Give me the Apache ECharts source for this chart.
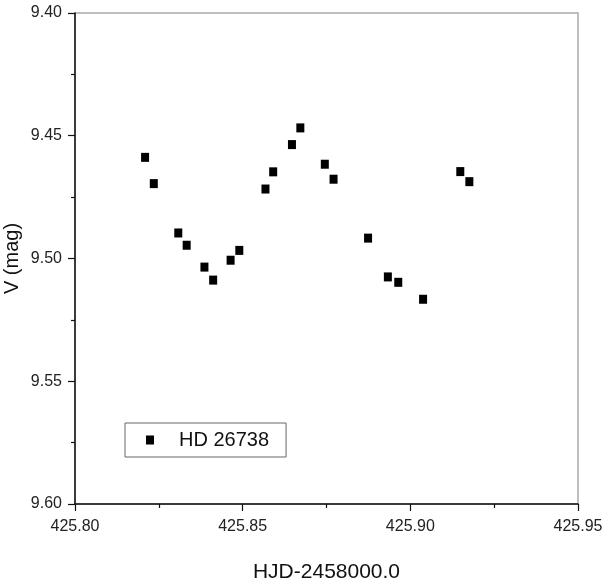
<!DOCTYPE html>
<html>
<head>
<meta charset="utf-8">
<script src="https://cdn.jsdelivr.net/npm/echarts@6/dist/echarts.min.js"></script>
<style>
html,body{margin:0;padding:0;background:#fff;}
#c{width:603px;height:586px;}
</style>
</head>
<body>
<div id="c"></div>
<script>
var seriesName = 'HD 26738';
var hjd = [425.8209, 425.8235, 425.8308, 425.8333, 425.8386, 425.8412, 425.8464, 425.8490,
           425.8568, 425.8591, 425.8647, 425.8672, 425.8745, 425.8771, 425.8874, 425.8933,
           425.8964, 425.9038, 425.9149, 425.9176];
var vmag = [9.4588, 9.4695, 9.4896, 9.4946, 9.5035, 9.5088, 9.5007, 9.4967,
            9.4717, 9.4647, 9.4536, 9.4468, 9.4616, 9.4677, 9.4917, 9.5075,
            9.5097, 9.5166, 9.4646, 9.4687];
var xTicks = {min: 425.80, max: 425.95, interval: 0.05};
var yTicks = {min: 9.40, max: 9.60, interval: 0.05};

var pts = hjd.map(function (x, i) { return [x, vmag[i]]; });
var font = '"Liberation Sans", Arial, sans-serif';
var chart = echarts.init(document.getElementById('c'), null, {renderer: 'canvas'});
chart.setOption({
  animation: false,
  backgroundColor: '#fff',
  grid: {left: 75, right: 25, top: 13, bottom: 82, show: true, outerBoundsMode: 'none', containLabel: false,
         borderColor: '#aaaaaa', borderWidth: 1.5, backgroundColor: 'transparent'},
  legend: {
    show: true, left: 125, top: 423, orient: 'vertical',
    data: [{name: seriesName, icon: 'rect'}],
    itemWidth: 8, itemHeight: 9,
    padding: [5, 17, 5, 21],
    borderColor: '#666', borderWidth: 1, borderRadius: 0,
    backgroundColor: '#fff',
    itemStyle: {opacity: 1},
    textStyle: {fontFamily: font, fontSize: 20, color: '#111', padding: [0, 0, 0, 20], lineHeight: 24}
  },
  xAxis: {
    type: 'value', min: xTicks.min, max: xTicks.max, interval: xTicks.interval,
    name: 'HJD-2458000.0', nameLocation: 'middle', nameGap: 58, nameMoveOverlap: false,
    nameTextStyle: {fontFamily: font, fontSize: 21, color: '#111'},
    axisLine: {show: true, onZero: false, lineStyle: {color: '#111', width: 1.5}},
    axisTick: {show: true, inside: false, length: 7, lineStyle: {color: '#111', width: 1.2}},
    minorTick: {show: true, splitNumber: 2, length: 4, lineStyle: {color: '#111', width: 1.2}},
    splitLine: {show: false},
    axisLabel: {fontFamily: font, fontSize: 16, color: '#222', margin: 15,
                formatter: function (v) { return v.toFixed(2); }}
  },
  yAxis: {
    type: 'value', inverse: true, min: yTicks.min, max: yTicks.max, interval: yTicks.interval,
    name: 'V (mag)', nameLocation: 'middle', nameGap: 53, nameRotate: 90, nameMoveOverlap: false,
    nameTextStyle: {fontFamily: font, fontSize: 20, color: '#111'},
    axisLine: {show: true, onZero: false, lineStyle: {color: '#111', width: 1.5}},
    axisTick: {show: true, inside: false, length: 7, lineStyle: {color: '#111', width: 1.2}},
    minorTick: {show: true, splitNumber: 2, length: 4, lineStyle: {color: '#111', width: 1.2}},
    splitLine: {show: false},
    axisLabel: {fontFamily: font, fontSize: 16, color: '#222', margin: 13,
                formatter: function (v) { return v.toFixed(2); }}
  },
  series: [{
    name: seriesName, type: 'scatter', data: pts,
    symbol: 'rect', symbolSize: [8, 9],
    itemStyle: {color: '#000', opacity: 1}
  }]
});
</script>
</body>
</html>
